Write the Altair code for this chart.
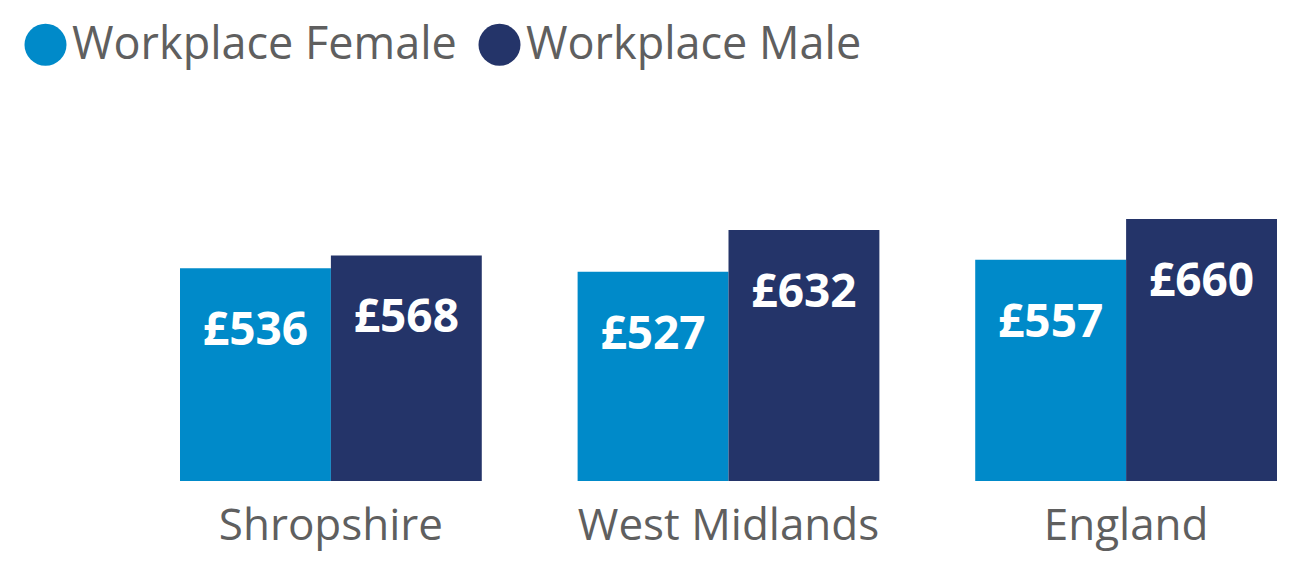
import altair as alt
import pandas as pd

regions = ["Shropshire", "West Midlands", "England"]
series = ["Workplace Female", "Workplace Male"]
female = [536, 527, 557]
male = [568, 632, 660]
colors = ["#008AC9", "#243469"]

rows = []
for r, f, m in zip(regions, female, male):
    rows.append({"region": r, "series": series[0], "value": f, "label": f"£{f}"})
    rows.append({"region": r, "series": series[1], "value": m, "label": f"£{m}"})
df = pd.DataFrame(rows)

FONT = "Open Sans"
GREY = "#5f5f5f"

base = alt.Chart(df).encode(
    x=alt.X(
        "region:N",
        sort=regions,
        scale=alt.Scale(paddingInner=0.241, paddingOuter=0),
        axis=alt.Axis(
            title=None, ticks=False, domain=False, labelAngle=0,
            labelFontSize=44, labelColor=GREY, labelFont=FONT, labelPadding=23,
            labelLimit=0,
        ),
    ),
    xOffset=alt.XOffset("series:N", sort=series, scale=alt.Scale(paddingInner=0, paddingOuter=0)),
    y=alt.Y("value:Q", scale=alt.Scale(domain=[0, 700]), axis=None),
)

bars = base.mark_bar().encode(
    color=alt.Color(
        "series:N",
        sort=series,
        scale=alt.Scale(domain=series, range=colors),
        legend=alt.Legend(
            orient="none", legendX=-157, legendY=-181, direction="horizontal",
            title=None, symbolType="circle", symbolSize=1764, symbolOpacity=1,
            symbolStrokeWidth=0, labelFontSize=45, labelFont=FONT, labelColor=GREY,
            labelOffset=4, columnPadding=20, padding=0, labelLimit=0,
        ),
    )
)

labels = base.mark_text(
    baseline="alphabetic", dy=77, color="white", fontSize=46,
    fontWeight="bold", font=FONT,
).encode(text="label:N")

chart = (bars + labels).properties(
    width=1097, height=278,
    autosize=alt.AutoSizeParams(type="none"),
    padding={"left": 172, "top": 195, "right": 22, "bottom": 81},
).configure_view(stroke=None)

chart.save("out.html", embed_options={"renderer": "svg", "actions": False})
